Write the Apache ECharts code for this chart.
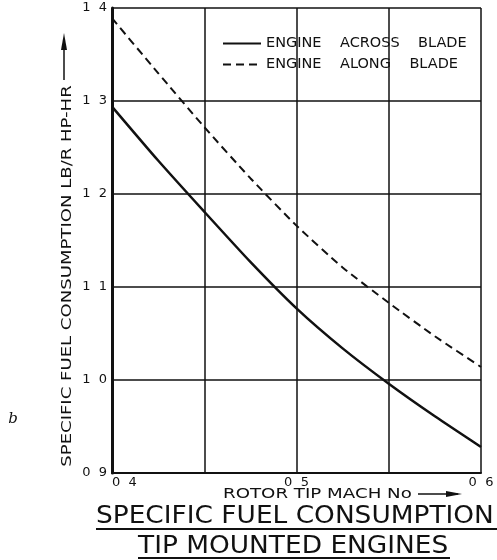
<!DOCTYPE html>
<html>
<head>
<meta charset="utf-8">
<script src="https://cdn.jsdelivr.net/npm/echarts@6/dist/echarts.min.js"></script>
<style>
html,body{margin:0;padding:0;background:#fff;}
#chart{width:497px;height:560px;}
</style>
</head>
<body>
<div id="chart"></div>
<script>
// Rotor tip Mach number (x) and specific fuel consumption (lb / r.hp-hr)
const machNo = [0.40, 0.425, 0.45, 0.475, 0.50, 0.525, 0.55, 0.575, 0.60];
const acrossBlade = [1.294, 1.236, 1.181, 1.127, 1.077, 1.034, 0.996, 0.961, 0.928];
const alongBlade = [1.389, 1.330, 1.272, 1.217, 1.166, 1.121, 1.083, 1.047, 1.014];
const seriesNames = ['ENGINE ACROSS BLADE', 'ENGINE ALONG BLADE'];
const titleLines = ['SPECIFIC FUEL CONSUMPTION', 'TIP MOUNTED ENGINES'];
const xAxisTitle = 'ROTOR TIP MACH No';
const yAxisTitle = 'SPECIFIC FUEL CONSUMPTION LB/R HP-HR';

const ink = '#111';
const chart = echarts.init(document.getElementById('chart'), null, {renderer: 'canvas'});
const pairs = (ys) => machNo.map((x, i) => [x, ys[i]]);

chart.setOption({
  backgroundColor: '#fff',
  animation: false,
  grid: {left: 112, right: 16, top: 8, bottom: 87},
  legend: {
    orient: 'vertical',
    left: 222, top: 36,
    padding: 0,
    itemWidth: 38, itemHeight: 14, itemGap: 6,
    data: seriesNames,
    itemStyle: {opacity: 0},
    formatter: (n) => n.replace(/ /g, '    '),
    textStyle: {fontFamily: 'DejaVu Sans', fontSize: 14.5, color: ink}
  },
  xAxis: {
    type: 'value', min: 0.4, max: 0.6, interval: 0.05,
    axisLine: {show: true, lineStyle: {color: ink, width: 2}},
    axisTick: {show: false},
    splitLine: {show: true, lineStyle: {color: ink, width: 1.5}},
    axisLabel: {
      margin: 3, color: ink, fontFamily: 'DejaVu Sans', fontSize: 13,
      alignMinLabel: 'left', alignMaxLabel: 'center',
      showMinLabel: true, showMaxLabel: true,
      formatter: (v) => { const r = Math.round(v * 100); return r % 10 === 0 ? (r / 100).toFixed(1).replace('.', '  ') : ''; }
    }
  },
  yAxis: {
    type: 'value', min: 0.9, max: 1.4, interval: 0.1,
    axisLine: {show: true, lineStyle: {color: ink, width: 3}},
    axisTick: {show: false},
    splitLine: {show: true, lineStyle: {color: ink, width: 1.5}},
    axisLabel: {
      margin: 5, color: ink, fontFamily: 'DejaVu Sans', fontSize: 13,
      formatter: (v) => v.toFixed(1).replace('.', '  ')
    }
  },
  series: [
    {name: seriesNames[0], type: 'line', data: pairs(acrossBlade), smooth: 0.2,
     symbol: 'none', lineStyle: {color: ink, width: 2.5, type: 'solid'}, itemStyle: {color: ink}, z: 5},
    {name: seriesNames[1], type: 'line', data: pairs(alongBlade), smooth: 0.2,
     symbol: 'none', lineStyle: {color: ink, width: 2, type: [8, 5]}, itemStyle: {color: ink}, z: 5}
  ],
  graphic: [
    {type: 'text', x: 223, y: 494, scaleX: 1.3,
     style: {text: xAxisTitle, font: '14px "DejaVu Sans"', fill: ink, align: 'left', verticalAlign: 'middle'}},
    {type: 'line', shape: {x1: 418, y1: 494, x2: 458, y2: 494}, style: {stroke: ink, lineWidth: 1.5}},
    {type: 'polygon', shape: {points: [[446, 491], [462, 494], [446, 497]]}, style: {fill: ink}},
    {type: 'text', x: 67, y: 276, rotation: Math.PI / 2, scaleX: 1.29,
     style: {text: yAxisTitle, font: '14px "DejaVu Sans"', fill: ink, align: 'center', verticalAlign: 'middle'}},
    {type: 'line', shape: {x1: 64, y1: 80, x2: 64, y2: 42}, style: {stroke: ink, lineWidth: 1.5}},
    {type: 'polygon', shape: {points: [[61, 50], [64, 33], [67, 50]]}, style: {fill: ink}},
    {type: 'text', x: 96, y: 517, scaleX: 1.1,
     style: {text: titleLines[0], font: '24px "DejaVu Sans"', fill: ink, align: 'left', verticalAlign: 'middle'}},
    {type: 'line', shape: {x1: 96, y1: 529, x2: 497, y2: 529}, style: {stroke: ink, lineWidth: 2}},
    {type: 'text', x: 138, y: 547, scaleX: 1.1,
     style: {text: titleLines[1], font: '24px "DejaVu Sans"', fill: ink, align: 'left', verticalAlign: 'middle'}},
    {type: 'line', shape: {x1: 138, y1: 558, x2: 450, y2: 558}, style: {stroke: ink, lineWidth: 2}},
    {type: 'text', x: 13, y: 419, style: {text: 'b', font: 'italic 15px "DejaVu Serif"', fill: ink, align: 'center', verticalAlign: 'middle'}}
  ]
});
</script>
</body>
</html>
